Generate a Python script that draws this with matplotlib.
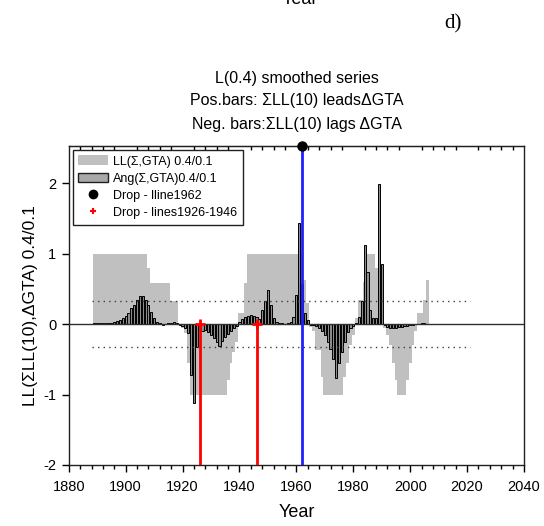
import numpy as np
import matplotlib.pyplot as plt
from matplotlib.patches import Patch
from matplotlib.lines import Line2D
from matplotlib.ticker import MultipleLocator

plt.rcParams['font.family'] = ['Liberation Sans', 'DejaVu Sans']
plt.rcParams['axes.unicode_minus'] = False

# annual series, 1889-2006
years = np.arange(1889, 2007)

ll_vals = [
    1.0, 1.0, 1.0, 1.0, 1.0, 1.0, 1.0, 1.0, 1.0, 1.0,          # 1889-1898
    1.0, 1.0, 1.0, 1.0, 1.0, 1.0, 1.0, 1.0, 1.0, 0.79,         # 1899-1908
    0.58, 0.58, 0.58, 0.58, 0.58, 0.58, 0.58, 0.33, 0.33, 0.33,  # 1909-1918
    0.0, -0.06, -0.13, -0.55, -1.0, -1.0, -1.0, -1.0, -1.0, -1.0,  # 1919-1928
    -1.0, -1.0, -1.0, -1.0, -1.0, -1.0, -1.0, -0.8, -0.55, -0.4,   # 1929-1938
    -0.25, 0.15, 0.15, 0.58, 1.0, 1.0, 1.0, 1.0, 1.0, 1.0,        # 1939-1948
    1.0, 1.0, 1.0, 1.0, 1.0, 1.0, 1.0, 1.0, 1.0, 1.0,             # 1949-1958
    1.0, 1.0, 1.0, 1.0, 0.62, 0.3, -0.04, -0.1, -0.37, -0.37,     # 1959-1968
    -0.75, -1.0, -1.0, -1.0, -1.0, -1.0, -1.0, -1.0, -0.75, -0.55,  # 1969-1978
    -0.3, -0.15, 0.08, 0.34, 0.34, 0.6, 1.0, 1.0, 1.0, 0.8,       # 1979-1988
    0.8, 0.34, -0.05, -0.15, -0.3, -0.55, -0.8, -1.0, -1.0, -1.0,  # 1989-1998
    -0.8, -0.55, -0.3, -0.1, 0.15, 0.15, 0.34, 0.62,              # 1999-2006
]

ang_vals = [
    0.01, 0.01, 0.01, 0.01, 0.01, 0.015, 0.02, 0.03, 0.04, 0.06,     # 1889-1898
    0.08, 0.11, 0.15, 0.22, 0.27, 0.34, 0.40, 0.40, 0.34, 0.27,      # 1899-1908
    0.17, 0.08, 0.03, 0.01, -0.01, 0.0, 0.01, 0.02, 0.03, 0.02,      # 1909-1918
    -0.01, -0.03, -0.06, -0.13, -0.72, -1.12, -0.33, -0.05, -0.1, -0.08,  # 1919-1928
    -0.12, -0.15, -0.2, -0.26, -0.31, -0.24, -0.18, -0.14, -0.1, -0.06,   # 1929-1938
    -0.03, 0.03, 0.07, 0.1, 0.12, 0.13, 0.12, 0.1, 0.07, 0.2,        # 1939-1948
    0.32, 0.48, 0.27, 0.08, 0.03, 0.01, 0.01, 0.0, 0.02, 0.03,       # 1949-1958
    0.1, 0.41, 1.43, 0.57, 0.15, 0.05, -0.01, -0.02, -0.03, -0.06,   # 1959-1968
    -0.1, -0.15, -0.25, -0.35, -0.5, -0.77, -0.55, -0.4, -0.25, -0.12,  # 1969-1978
    -0.06, -0.03, 0.02, 0.1, 0.33, 1.12, 0.74, 0.2, 0.09, 0.08,      # 1979-1988
    1.99, 0.85, -0.02, -0.04, -0.05, -0.05, -0.05, -0.04, -0.04, -0.03,  # 1989-1998
    -0.03, -0.02, -0.01, 0.0, 0.0, 0.02, 0.02, 0.0,                  # 1999-2006
]

threshold = 0.32
thr_span = [1888, 2021]
drop_red = [1926, 1946]
drop_blue = 1962

fig = plt.figure(figsize=(5.44, 5.26), dpi=100)
ax = fig.add_axes([68.75 / 544, 1 - 465 / 526, (524 - 68.75) / 544, (465 - 146) / 526])

ymin, ymax = -2.0, 2.525
ax.set_xlim(1880, 2040)
ax.set_ylim(ymin, ymax)

ax.bar(years, ll_vals, width=1.0, color='#c0c0c0', edgecolor='none', zorder=1)
ax.bar(years, ang_vals, width=0.75, color='#8c8c8c', edgecolor='black',
       linewidth=0.7, zorder=2)

ax.axhline(0, color='#303030', lw=1.0, zorder=3)
for s in (threshold, -threshold):
    ax.plot(thr_span, [s, s], color='#404040', lw=1.0, ls=(0, (1, 3)), zorder=3)

# drop lines
for yr in drop_red:
    ax.plot([yr, yr], [0, ymin], color='red', lw=2, zorder=4, solid_capstyle='butt')
    ax.plot(yr, 0, '+', color='red', ms=7, mew=2, zorder=5)
ax.plot([drop_blue, drop_blue], [ymin, ymax], color='#1f1fff', lw=2, zorder=4,
        solid_capstyle='butt')
ax.plot(drop_blue, ymax, 'o', color='black', ms=6.5, zorder=6, clip_on=False)

# axes and ticks
ax.set_xticks(range(1880, 2041, 20))
ax.xaxis.set_minor_locator(MultipleLocator(4))
ax.set_yticks([-2, -1, 0, 1, 2])
ax.tick_params(axis='both', which='major', direction='out', length=5, width=1,
               labelsize=10.5, pad=4)
ax.tick_params(axis='x', which='minor', direction='out', length=3, width=1)
ax.tick_params(axis='x', pad=6)
for sp in ax.spines.values():
    sp.set_linewidth(1.0)
    sp.set_color('#202020')

top = ax.secondary_xaxis('top')
top.set_xticks(range(1880, 2041, 20))
top.xaxis.set_minor_locator(MultipleLocator(4))
top.tick_params(which='major', length=0, labeltop=False)
top.tick_params(which='minor', direction='in', length=3, width=1)
top.set_xticklabels([])

ax.set_xlabel('Year', fontsize=13, labelpad=7)
ax.set_ylabel('LL(\u03a3LL(10),\u0394GTA) 0.4/0.1', fontsize=12.5, labelpad=4)

handles = [
    Patch(facecolor='#c0c0c0', edgecolor='none'),
    Patch(facecolor='#a8a8a8', edgecolor='#202020', linewidth=1),
    Line2D([], [], ls='none', marker='o', color='black', ms=6),
    Line2D([], [], ls='none', marker='+', color='red', ms=5, mew=1.5),
]
labels = ['LL(\u03a3,GTA) 0.4/0.1', 'Ang(\u03a3,GTA)0.4/0.1',
          'Drop - lline1962', 'Drop - lines1926-1946']
leg = ax.legend(handles, labels, loc='upper left', fontsize=9, frameon=True,
                fancybox=False, edgecolor='#202020', framealpha=1,
                borderaxespad=0.3, borderpad=0.45, handlelength=2.4,
                handleheight=0.8, handletextpad=0.4, labelspacing=0.4)
leg.get_frame().set_linewidth(1.0)

# titles
fig.text(297 / 544, 1 - 78 / 526, 'L(0.4) smoothed series', ha='center', va='center', fontsize=11.5)
fig.text(297 / 544, 1 - 101 / 526, 'Pos.bars: \u03a3LL(10) leads\u0394GTA', ha='center', va='center', fontsize=11.5)
fig.text(297 / 544, 1 - 124 / 526, 'Neg. bars:\u03a3LL(10) lags \u0394GTA', ha='center', va='center', fontsize=11.5)
fig.text(453 / 544, 1 - 24 / 526, 'd)', ha='center', va='center', fontsize=15,
         family='Liberation Serif')
fig.text(300 / 544, 1 - 3.5 / 526, 'Year', ha='center', va='baseline', fontsize=13)

fig.savefig('out.png', dpi=100)
